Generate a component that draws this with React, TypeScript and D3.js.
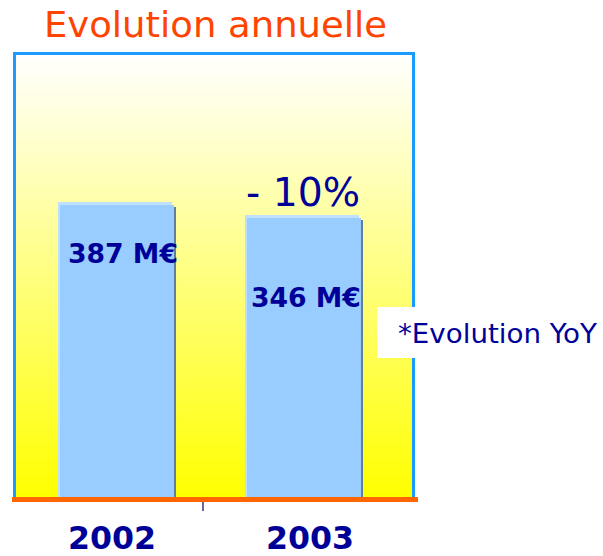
import React from "react";
import * as d3 from "d3";

const categories = ["2002", "2003"];
const values = [387, 346];
const valueLabels = ["387 M€", "346 M€"];
const evolutionLabel = "- 10%";
const noteLabel = "*Evolution YoY";
const title = "Evolution annuelle";

const W = 603;
const H = 556;
const frame = { x0: 13, x1: 415, y0: 52, y1: 497 };

export default function App() {
  const x = d3
    .scaleBand<string>()
    .domain(categories)
    .range([frame.x0, frame.x1])
    .paddingInner(0.39)
    .paddingOuter(0.27)
    .align(0.465);
  const y = d3.scaleLinear().domain([-543, 387]).range([frame.y1, 202]);
  const bw = x.bandwidth();
  const font = "'DejaVu Sans', Verdana, sans-serif";
  const labelDx = [8, 4];
  const labelDy = [61, 92];
  const yearDx = [-5, 6];
  return (
    <svg width={W} height={H} style={{ position: "absolute", left: 0, top: 0 }} fontFamily={font}>
      <defs>
        <linearGradient id="bg" x1="0" y1="0" x2="0" y2="1">
          <stop offset="0%" stopColor="#ffffff" />
          <stop offset="100%" stopColor="#ffff00" />
        </linearGradient>
      </defs>
      <rect x={0} y={0} width={W} height={H} fill="#ffffff" />
      <text x={44} y={37} fontSize={36} fill="#ff4400" textLength={343} lengthAdjust="spacingAndGlyphs">
        {title}
      </text>
      <rect
        x={frame.x0 + 1.5}
        y={frame.y0 + 1.5}
        width={frame.x1 - frame.x0 - 3}
        height={frame.y1 - frame.y0}
        fill="url(#bg)"
        stroke="#1a9cff"
        strokeWidth={3}
      />
      {categories.map((c, i) => {
        const bx = x(c)!;
        const top = y(values[i]);
        return (
          <g key={c}>
            <rect x={bx + 2} y={top + 5} width={bw} height={frame.y1 - top - 5} fill="#5f7f9f" />
            <rect x={bx - 2} y={top} width={bw} height={frame.y1 - top} fill="#c0e0ff" />
            <rect x={bx} y={top + 3} width={bw} height={frame.y1 - top - 3} fill="#99ccff" />
          </g>
        );
      })}
      {categories.map((c, i) => (
        <text
          key={"v" + c}
          x={x(c)! + labelDx[i]}
          y={y(values[i]) + labelDy[i]}
          fontSize={27}
          fontWeight="bold"
          fill="#000099"
          textLength={110}
          lengthAdjust="spacingAndGlyphs"
        >
          {valueLabels[i]}
        </text>
      ))}
      <text x={246} y={206} fontSize={39} fill="#000099" textLength={114} lengthAdjust="spacingAndGlyphs">
        {evolutionLabel}
      </text>
      <rect x={377} y={307} width={226} height={51} fill="#ffffff" />
      <text x={398} y={343} fontSize={26} fill="#000099" textLength={199} lengthAdjust="spacingAndGlyphs">
        {noteLabel}
      </text>
      <rect x={12} y={497} width={406} height={5} fill="#ff6600" />
      <line x1={203} x2={203} y1={502} y2={511} stroke="#000066" strokeWidth={1.2} />
      {categories.map((c, i) => (
        <text
          key={"t" + c}
          x={x(c)! + bw / 2 + yearDx[i]}
          y={549}
          textAnchor="middle"
          fontSize={32}
          fontWeight="bold"
          fill="#000099"
          textLength={88}
          lengthAdjust="spacingAndGlyphs"
        >
          {c}
        </text>
      ))}
    </svg>
  );
}
